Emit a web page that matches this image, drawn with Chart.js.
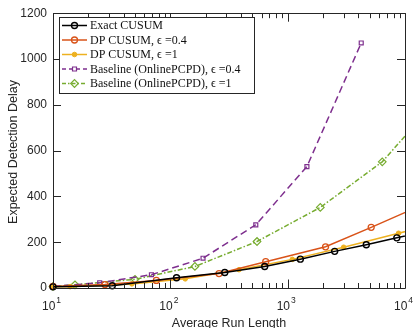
<!DOCTYPE html>
<html>
<head>
<meta charset="utf-8">
<script src="https://cdn.jsdelivr.net/npm/chart.js@4.4.1/dist/chart.umd.min.js"></script>
<style>
  html, body { margin: 0; padding: 0; background: #fff; }
  #wrap { width: 417px; height: 328px; position: relative; }
</style>
</head>
<body>
<div id="wrap"><canvas id="arlChart"></canvas></div>
<script>
// values (x = average run length, y = expected detection delay)
const exactX = [10, 32, 113, 291, 637, 1282, 2515, 4680, 8520, 16000];
const exactY = [5, 10, 45, 68, 94, 126, 160, 189, 219, 250];

const dp04X = [10, 27.7, 76, 260, 650, 2104, 5150, 13000];
const dp04Y = [7, 15, 33, 63, 115, 180, 265, 355];

const dp1X = [10, 14, 47, 134, 385, 1096, 3000, 8810, 25000];
const dp1Y = [5, 6, 18, 40, 80, 125, 178, 239, 298];

const base04X = [10, 25, 69, 190, 535, 1459, 4236];
const base04Y = [7, 23, 58, 130, 276, 530, 1070];

const base1X = [10, 15.4, 50, 162, 548, 1897, 6397, 21000];
const base1Y = [7, 14, 38, 94, 203, 352, 551, 850];

const seriesLabels = [
  'Exact CUSUM',
  'DP CUSUM, \u03F5 =0.4',
  'DP CUSUM, \u03F5 =1',
  'Baseline (OnlinePCPD), \u03F5 =0.4',
  'Baseline (OnlinePCPD), \u03F5 =1'
];
const yTicks = [0, 200, 400, 600, 800, 1000, 1200];
const xDecades = [1, 2, 3, 4];

const axisColor = '#262626';

function pts(xs, ys) {
  return xs.map((x, i) => ({ x: x, y: ys[i] }));
}

const clipBox = { left: 6, right: 0, top: 6, bottom: 6 };

// draws the MATLAB-like box, inward ticks, x labels, titles and the inset legend
const boxPlugin = {
  id: 'boxPlugin',
  afterDatasetsDraw(chart) {
    const { ctx, chartArea: a, scales } = chart;
    const xs = scales.x, ys = scales.y;
    ctx.save();
    ctx.strokeStyle = axisColor;
    ctx.lineWidth = 1;
    ctx.beginPath();
    ctx.rect(Math.round(a.left) + 0.5, Math.round(a.top) + 0.5,
      Math.round(a.right - a.left), Math.round(a.bottom - a.top));
    ctx.stroke();

    // x ticks (log, with minors) on bottom and top
    ctx.beginPath();
    for (let d = 1; d <= 4; d++) {
      for (let k = 1; k <= 9; k++) {
        const v = k * Math.pow(10, d);
        if (v > 10000) break;
        const px = Math.round(xs.getPixelForValue(v)) + 0.5;
        const len = k === 1 ? 8.5 : 5;
        ctx.moveTo(px, a.bottom);
        ctx.lineTo(px, a.bottom - len);
        ctx.moveTo(px, a.top);
        ctx.lineTo(px, a.top + len);
      }
    }
    // y ticks left and right
    yTicks.forEach(v => {
      const py = Math.round(ys.getPixelForValue(v)) + 0.5;
      ctx.moveTo(a.left, py);
      ctx.lineTo(a.left + 8, py);
      ctx.moveTo(a.right, py);
      ctx.lineTo(a.right - 8, py);
    });
    ctx.stroke();

    // x tick labels 10^n
    ctx.fillStyle = axisColor;
    ctx.textBaseline = 'alphabetic';
    ctx.textAlign = 'left';
    xDecades.forEach(p => {
      const px = xs.getPixelForValue(Math.pow(10, p));
      ctx.font = '12px "Liberation Sans", Arial, sans-serif';
      const w = ctx.measureText('10').width;
      ctx.fillText('10', px - 11, 310);
      ctx.font = '8.5px "Liberation Sans", Arial, sans-serif';
      ctx.fillText(String(p), px - 11 + w + 1, 303);
    });

    // axis titles
    ctx.font = '12.5px "Liberation Sans", Arial, sans-serif';
    ctx.textAlign = 'center';
    ctx.fillText('Average Run Length', (a.left + a.right) / 2, 327);
    ctx.save();
    ctx.translate(16.5, 152);
    ctx.rotate(-Math.PI / 2);
    ctx.fillText('Expected Detection Delay', 0, 0);
    ctx.restore();

    // legend
    const lx = 59.5, ly = 17.5, lw = 195, lh = 76;
    ctx.fillStyle = '#fff';
    ctx.fillRect(lx, ly, lw, lh);
    ctx.strokeStyle = axisColor;
    ctx.lineWidth = 1;
    ctx.strokeRect(lx, ly, lw, lh);
    chart.data.datasets.forEach((ds, i) => {
      const y = 25.5 + i * 14.5;
      ctx.save();
      ctx.strokeStyle = ds.borderColor;
      ctx.lineWidth = ds.borderWidth;
      ctx.setLineDash(ds.legendDash || []);
      ctx.beginPath();
      ctx.moveTo(62, y);
      ctx.lineTo(87, y);
      ctx.stroke();
      ctx.setLineDash([]);
      ctx.fillStyle = ds.pointBackgroundColor;
      ctx.lineWidth = ds.pointBorderWidth;
      Chart.helpers.drawPoint(ctx, {
        pointStyle: ds.pointStyle,
        radius: ds.pointRadius,
        borderWidth: ds.pointBorderWidth,
        rotation: 0
      }, 74.5, y);
      ctx.restore();

      ctx.fillStyle = '#111';
      ctx.font = '12px "Liberation Serif", "DejaVu Serif", serif';
      ctx.textAlign = 'left';
      ctx.textBaseline = 'middle';
      ctx.fillText(seriesLabels[i], 90, y + 0.5);
    });
    ctx.restore();
  }
};

const ctx = document.getElementById('arlChart').getContext('2d');
new Chart(ctx, {
  type: 'line',
  data: {
    datasets: [
      {
        label: seriesLabels[0], data: pts(exactX, exactY),
        borderColor: '#000000', borderWidth: 1.5,
        pointStyle: 'circle', pointRadius: 3, pointBorderWidth: 1.4,
        pointBackgroundColor: 'rgba(0,0,0,0)', clip: clipBox
      },
      {
        label: seriesLabels[1], data: pts(dp04X, dp04Y),
        borderColor: '#D95319', borderWidth: 1.5,
        pointStyle: 'circle', pointRadius: 3, pointBorderWidth: 1.3,
        pointBackgroundColor: 'rgba(0,0,0,0)', clip: clipBox
      },
      {
        label: seriesLabels[2], data: pts(dp1X, dp1Y),
        borderColor: '#EDB120', borderWidth: 1.5,
        pointStyle: 'circle', pointRadius: 2.3, pointBorderWidth: 1,
        pointBackgroundColor: '#EDB120', clip: clipBox
      },
      {
        label: seriesLabels[3], data: pts(base04X, base04Y),
        borderColor: '#7E2F8E', borderWidth: 1.5, borderDash: [7, 4], legendDash: [4, 3],
        pointStyle: 'rect', pointRadius: 2.8, pointBorderWidth: 1.2,
        pointBackgroundColor: 'rgba(0,0,0,0)', clip: clipBox
      },
      {
        label: seriesLabels[4], data: pts(base1X, base1Y),
        borderColor: '#77AC30', borderWidth: 1.5, borderDash: [5, 2, 1.5, 2], legendDash: [4, 2, 1.5, 2],
        pointStyle: 'rectRot', pointRadius: 3.8, pointBorderWidth: 1.2,
        pointBackgroundColor: 'rgba(0,0,0,0)', clip: clipBox
      }
    ]
  },
  options: {
    responsive: true,
    maintainAspectRatio: false,
    animation: false,
    layout: { padding: { left: 0, right: 12, top: 12, bottom: 0 } },
    plugins: { legend: { display: false }, tooltip: { enabled: false } },
    elements: { line: { tension: 0 } },
    scales: {
      x: {
        type: 'logarithmic', min: 10, max: 10000,
        grid: { display: false, drawTicks: false },
        border: { display: false },
        ticks: { display: false },
        afterFit(scale) { scale.height = 40; }
      },
      y: {
        min: 0, max: 1200,
        grid: { display: false, drawTicks: false },
        border: { display: false },
        afterBuildTicks(scale) { scale.ticks = yTicks.map(v => ({ value: v })); },
        ticks: {
          padding: 6, color: axisColor,
          font: { family: '"Liberation Sans", Arial, sans-serif', size: 12 },
          callback: v => String(v)
        },
        afterFit(scale) { scale.width = 53; }
      }
    }
  },
  plugins: [boxPlugin]
});
</script>
</body>
</html>
